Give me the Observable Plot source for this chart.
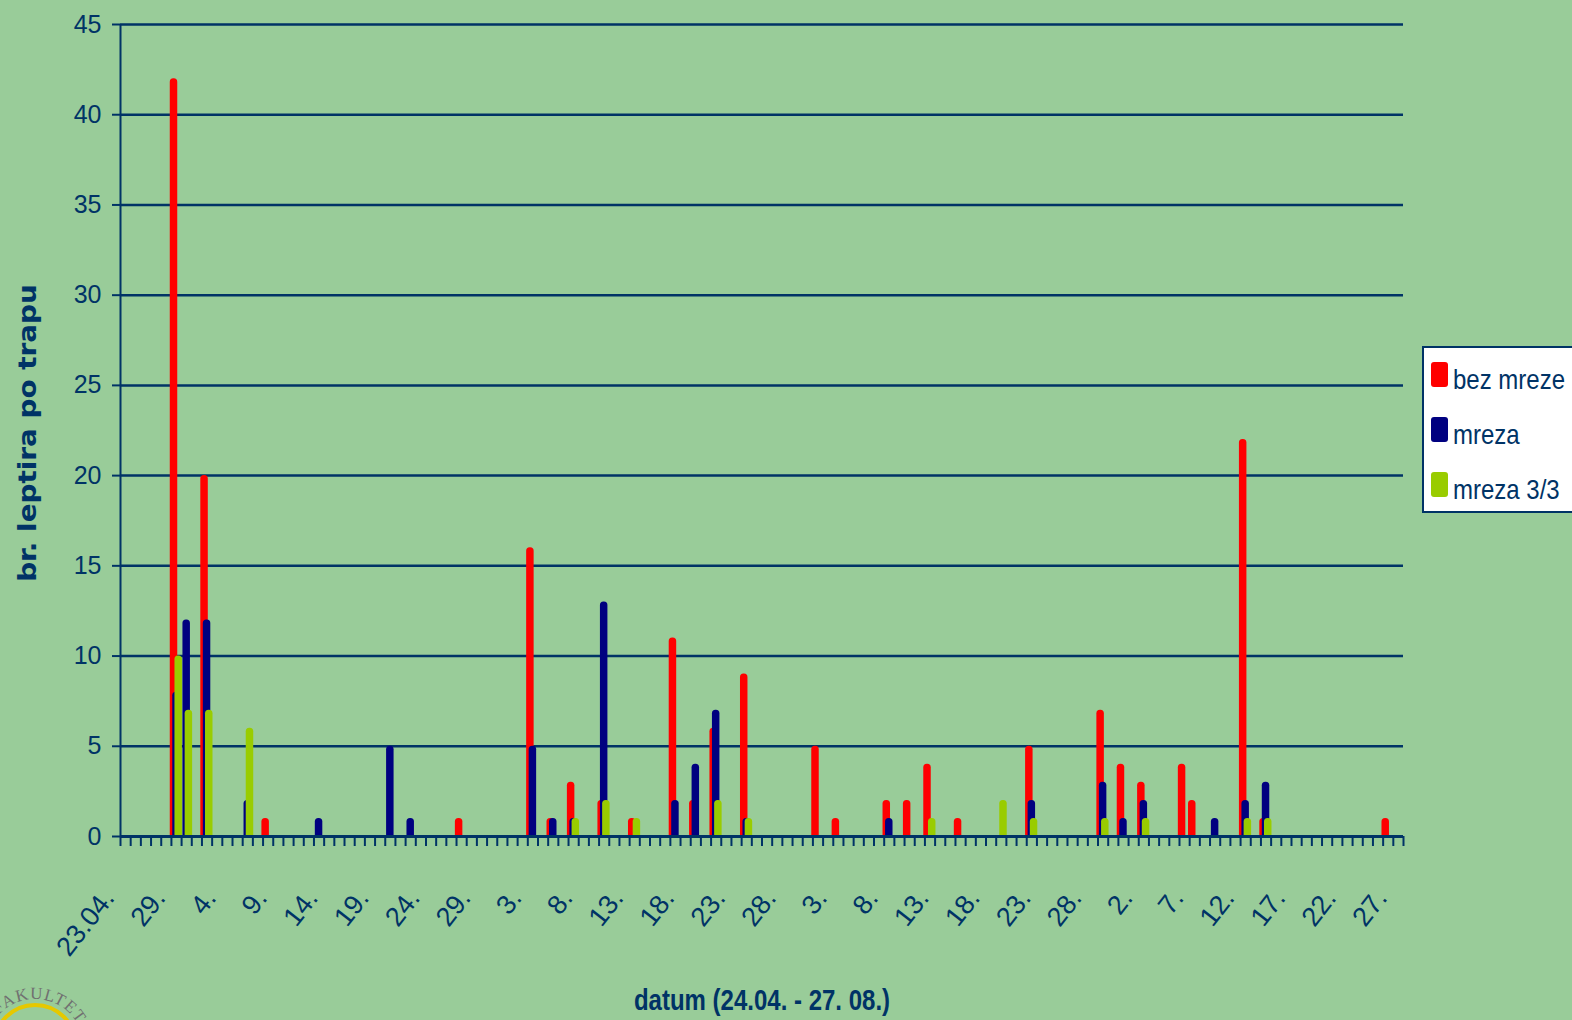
<!DOCTYPE html>
<html>
<head>
<meta charset="utf-8">
<script src="https://cdn.jsdelivr.net/npm/d3@7"></script>
<script src="https://cdn.jsdelivr.net/npm/@observablehq/plot@0.6"></script>
<style>
  html, body { margin: 0; padding: 0; background: #99CC99; }
  body { width: 1572px; height: 1020px; position: relative; overflow: hidden;
         font-family: "Liberation Sans", Arial, sans-serif; color: #003366; }
  #chart { position: absolute; left: 0; top: 0; }
  #legend { position: absolute; left: 1422px; top: 346px; width: 170px; height: 167px;
            border: 2px solid #003366; background: #ffffff; box-sizing: border-box; }
  #legend .sw { position: absolute; left: 6.5px; width: 17.5px; height: 25px; border-radius: 3px; }
  #legend .lab { position: absolute; left: 29px; font-size: 24px; line-height: 24px; white-space: nowrap;
                 transform: scaleY(1.18); transform-origin: 0 20.3px; color: #003366; }
  #xtitle { position: absolute; left: 0; width: 1524px; top: 989.7px; text-align: center;
            font-size: 24px; line-height: 24px; font-weight: bold; white-space: nowrap;
            transform: scaleY(1.2); transform-origin: 50% 20.3px; }
  #ytitle { position: absolute; left: 28px; top: 433px; font-family: "DejaVu Sans", sans-serif;
            font-size: 24px; line-height: 24px; font-weight: bold; white-space: nowrap;
            transform: translate(-50%, -50%) scale(1, 1.16) rotate(-90deg); }
  #logo { position: absolute; left: 0; top: 960px; }
</style>
</head>
<body>
<div id="chart"></div>
<div id="ytitle">br. leptira po trapu</div>
<div id="xtitle">datum (24.04. - 27. 08.)</div>
<div id="legend"></div>
<svg id="logo" width="110" height="60">
  <defs><path id="arcp" d="M -14,88 A 49 49 0 0 1 84,88"></path></defs>
  <circle cx="35" cy="86" r="41" fill="none" stroke="#E6C800" stroke-width="4"></circle>
  <text font-family="Liberation Serif, serif" font-size="17" fill="#707070" letter-spacing="1">
    <textPath href="#arcp" startOffset="36">FAKULTET</textPath>
  </text>
</svg>
<script>
// ---- data (day index 0 = first category "23.04.") ----
const nDays = 126;
const tickLabels = ["23.04.","29.","4.","9.","14.","19.","24.","29.","3.","8.","13.","18.","23.","28.",
                    "3.","8.","13.","18.","23.","28.","2.","7.","12.","17.","22.","27."];

const seriesNames = ["bez mreze", "mreza", "mreza 3/3"];
const seriesColors = ["#FF0000", "#000080", "#99CC00"];

const bezMrezeDay = [5, 8, 14, 33, 40, 42, 44, 47, 50, 54, 56, 58, 61, 68, 70, 75, 77, 79, 82, 89, 96, 98, 100, 104, 105, 110, 112, 124];
const bezMrezeVal = [42, 20, 1, 1, 16, 1, 3, 2, 1, 11, 2, 6, 9, 5, 1, 2, 2, 4, 1, 5, 7, 4, 3, 4, 2, 22, 1, 1];

const mrezaDay = [5, 6, 8, 12, 19, 26, 28, 40, 42, 44, 47, 54, 56, 58, 61, 75, 89, 96, 98, 100, 107, 110, 112];
const mrezaVal = [8, 12, 12, 2, 1, 5, 1, 5, 1, 1, 13, 2, 4, 7, 1, 1, 2, 3, 1, 2, 1, 2, 3];

const mreza33Day = [5, 6, 8, 12, 44, 47, 50, 58, 61, 79, 86, 89, 96, 100, 110, 112];
const mreza33Val = [10, 7, 7, 6, 1, 2, 1, 2, 1, 1, 2, 1, 1, 1, 1, 1];

const yTicks = d3.range(0, 50, 5);

// ---- build ----
const seriesData = [
  {days: bezMrezeDay, vals: bezMrezeVal, dx: -2.5},
  {days: mrezaDay, vals: mrezaVal, dx: 0},
  {days: mreza33Day, vals: mreza33Val, dx: 2.2}
].map((s, k) => ({...s, name: seriesNames[k], color: seriesColors[k],
                  rows: s.days.map((d, j) => ({day: d, value: s.vals[j]}))}));

const labelPos = tickLabels.map((_, k) => k * 5 + 0.5);
const navy = "#003366";

const barMarks = seriesData.map(s =>
  Plot.rectY(s.rows, {
    x1: "day", x2: d => d.day + 1, y: "value",
    fill: s.color, insetLeft: 1.35, insetRight: 1.35, insetBottom: -2,
    dx: s.dx, rx: 3.5
  })
);

const chart = Plot.plot({
  width: 1572, height: 1020,
  marginLeft: 120, marginRight: 169, marginTop: 24, marginBottom: 184,
  style: {background: "transparent", color: navy, fontFamily: "Liberation Sans, Arial, sans-serif", overflow: "visible"},
  x: {domain: [0, nDays], axis: null},
  y: {domain: [0, 45], axis: null},
  marks: [
    Plot.gridY(yTicks.filter(v => v > 0), {stroke: navy, strokeOpacity: 1, strokeWidth: 2.5}),
    Plot.axisY(yTicks, {tickSize: 8, tickPadding: 11, fontSize: 25, stroke: navy, strokeWidth: 2, label: null}),
    Plot.ruleX([0], {stroke: navy, strokeWidth: 2}),
    ...barMarks,
    Plot.ruleY([0], {stroke: navy, strokeWidth: 3}),
    Plot.axisX(d3.range(0, nDays + 1), {tickSize: 10, tickFormat: () => "", stroke: navy, strokeWidth: 2, label: null}),
    Plot.text(labelPos, {
      x: d => d, text: v => tickLabels[Math.round((v - 0.5) / 5)],
      frameAnchor: "bottom", textAnchor: "end", lineAnchor: "bottom",
      rotate: -52, dx: -10, dy: 62, fontSize: 27, fill: navy
    })
  ]
});
document.getElementById("chart").appendChild(chart);

// legend
const legend = document.getElementById("legend");
seriesData.forEach((s, k) => {
  const sw = document.createElement("div");
  sw.className = "sw"; sw.style.background = s.color; sw.style.top = (14 + 55 * k) + "px";
  const lab = document.createElement("div");
  lab.className = "lab"; lab.textContent = s.name; lab.style.top = (21 + 55 * k) + "px";
  legend.appendChild(sw); legend.appendChild(lab);
});
</script>
</body>
</html>
